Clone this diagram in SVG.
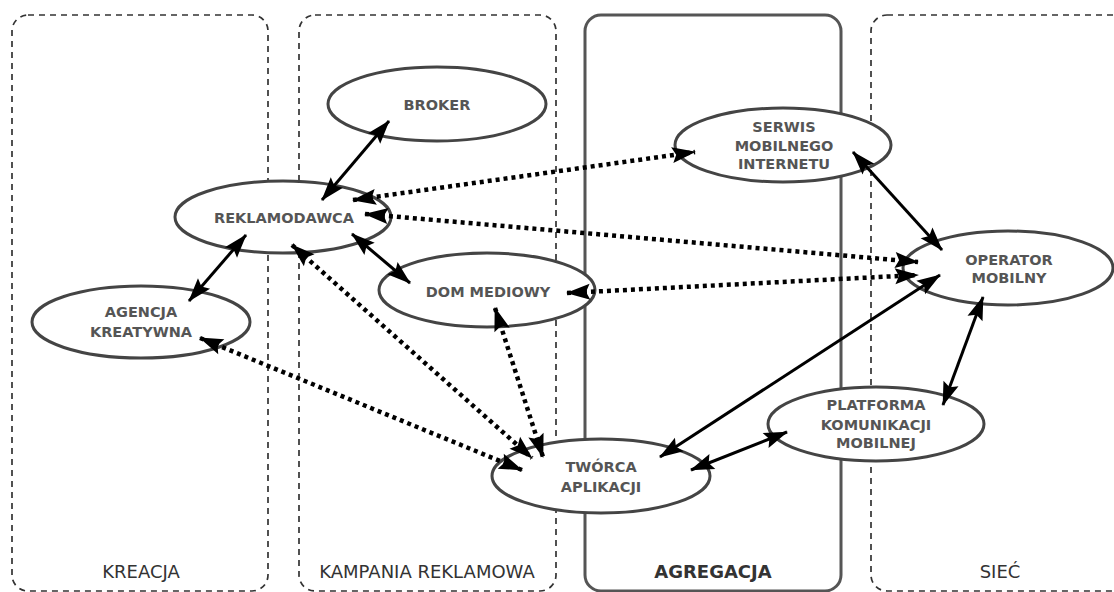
<svg xmlns="http://www.w3.org/2000/svg" width="1114" height="592" viewBox="0 0 1114 592">
<style>
.zone{fill:none;stroke:#333;stroke-width:1.7;stroke-dasharray:6 5}
.zone-solid{fill:none;stroke:#555;stroke-width:3}
.zlabel{font-family:"DejaVu Sans",sans-serif;font-size:18px;fill:#333;text-anchor:middle}
.node ellipse{fill:#fff;stroke:#444;stroke-width:3}
.node text{font-family:"DejaVu Sans",sans-serif;font-weight:bold;font-size:14.5px;fill:#555;text-anchor:middle}
.solid{stroke:#000;stroke-width:3;fill:none;marker-start:url(#ah);marker-end:url(#ah)}
.dot{stroke:#000;stroke-width:4.5;stroke-dasharray:4 4;fill:none;marker-start:url(#ah);marker-end:url(#ah)}
</style>
<defs>
<marker id="ah" markerUnits="userSpaceOnUse" markerWidth="24" markerHeight="18" refX="23" refY="9" orient="auto-start-reverse" viewBox="0 0 24 18" overflow="visible">
<path d="M0,1 L24,9 L0,17 L4,9 z" fill="#000"/>
</marker>
</defs>
<rect width="1114" height="592" fill="#fff"/>
<g id="zones">
<rect class="zone" x="12" y="15" width="256" height="576" rx="16"/>
<rect class="zone" x="299" y="15" width="257" height="576" rx="16"/>
<rect class="zone-solid" x="585" y="15" width="256" height="576" rx="16"/>
<rect class="zone" x="871" y="15" width="260" height="576" rx="16"/>
<text class="zlabel" x="141" y="578">KREACJA</text>
<text class="zlabel" x="427" y="578">KAMPANIA REKLAMOWA</text>
<text class="zlabel" x="713" y="578" font-weight="bold">AGREGACJA</text>
<text class="zlabel" x="1000" y="578">SIEĆ</text>
</g>
<g id="broker" class="node"><ellipse cx="437" cy="104" rx="109" ry="37"/><text x="437" y="110">BROKER</text></g>
<g id="reklamodawca" class="node"><ellipse cx="283" cy="217" rx="108" ry="36"/><text x="284" y="223">REKLAMODAWCA</text></g>
<g id="agencja" class="node"><ellipse cx="141" cy="322" rx="109" ry="36"/><text x="141" y="317">AGENCJA</text><text x="141" y="337">KREATYWNA</text></g>
<g id="dom" class="node"><ellipse cx="487" cy="290" rx="108" ry="37"/><text x="488" y="297">DOM MEDIOWY</text></g>
<g id="serwis" class="node"><ellipse cx="783" cy="145" rx="108" ry="37"/><text x="784" y="132">SERWIS</text><text x="784" y="151">MOBILNEGO</text><text x="784" y="169">INTERNETU</text></g>
<g id="operator" class="node"><ellipse cx="1008" cy="268" rx="105" ry="37"/><text x="1009" y="265">OPERATOR</text><text x="1009" y="283">MOBILNY</text></g>
<g id="platforma" class="node"><ellipse cx="876" cy="424" rx="108" ry="37"/><text x="876" y="410">PLATFORMA</text><text x="876" y="430">KOMUNIKACJI</text><text x="876" y="448">MOBILNEJ</text></g>
<g id="tworca" class="node"><ellipse cx="601" cy="476" rx="109" ry="37"/><text x="601" y="472">TWÓRCA</text><text x="601" y="492">APLIKACJI</text></g>
<g id="connectors">
<path class="solid" d="M322,200 L389,121"/>
<path class="solid" d="M246,235 L189,301"/>
<path class="solid" d="M352,234 L410,283"/>
<path class="solid" d="M853,152 L942,250"/>
<path class="solid" d="M940,275 L660,457"/>
<path class="solid" d="M983,297 L943,405"/>
<path class="solid" d="M787,432 L691,470"/>
<path class="dot" d="M353,200 L695,152"/>
<path class="dot" d="M365,214 L918,262"/>
<path class="dot" d="M567,293 L918,275"/>
<path class="dot" d="M292,245 L532,458"/>
<path class="dot" d="M495,308 L543,457"/>
<path class="dot" d="M200,338 L522,470"/>
</g>
</svg>
